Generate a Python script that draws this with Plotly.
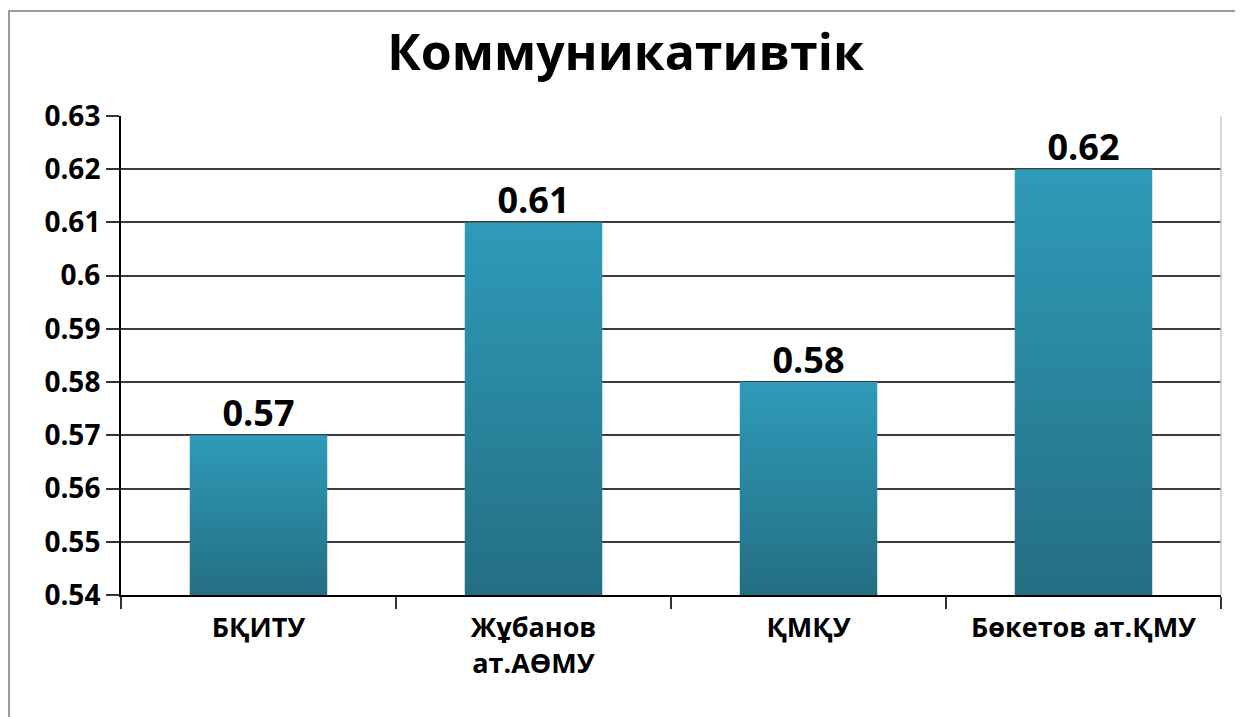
import plotly.graph_objects as go

categories = ["БҚИТУ", "Жұбанов<br>ат.АӨМУ", "ҚМҚУ", "Бөкетов ат.ҚМУ"]
values = [0.57, 0.61, 0.58, 0.62]
value_labels = ["0.57", "0.61", "0.58", "0.62"]
title_text = "Коммуникативтік"
y_min, y_max, y_step = 0.54, 0.63, 0.01

BAR_HALF = 0.25
LIGHT = "rgb(46,155,185)"
DARK = "rgb(36,110,130)"
FONT = "Open Sans"

fig = go.Figure()

for i, v in enumerate(values):
    fig.add_trace(go.Scatter(
        x=[i - BAR_HALF, i + BAR_HALF, i + BAR_HALF, i - BAR_HALF, i - BAR_HALF],
        y=[y_min, y_min, v, v, y_min],
        mode="lines",
        line=dict(width=0, color=LIGHT),
        fill="toself",
        fillgradient=dict(type="vertical", colorscale=[[0, DARK], [1, LIGHT]]),
        hoverinfo="skip",
        showlegend=False,
    ))

fig.add_trace(go.Scatter(
    x=list(range(len(values))),
    y=values,
    mode="text",
    text=value_labels,
    textposition="top center",
    textfont=dict(family=FONT, size=36, color="black", weight="bold"),
    showlegend=False,
    hoverinfo="skip",
))

fig.update_layout(
    width=1235, height=709,
    margin=dict(l=113, r=22, t=108, b=122),
    paper_bgcolor="white",
    plot_bgcolor="white",
    title=dict(
        text="<b>" + title_text + "</b>",
        x=0.5, xanchor="center", y=0.937, yanchor="middle",
        font=dict(family=FONT, size=50, color="black"),
    ),
    font=dict(family=FONT, color="black"),
    shapes=[
        dict(type="rect", xref="paper", yref="paper",
             x0=-0.1018, x1=1.06, y0=-0.35, y1=1.219,
             line=dict(color="#9a9a9a", width=2), layer="below"),
        dict(type="line", xref="paper", yref="paper",
             x0=1, x1=1, y0=0, y1=1,
             line=dict(color="#c8c8c8", width=1.5)),
    ],
)

fig.update_xaxes(
    range=[-0.5, len(values) - 0.5],
    tickvals=list(range(len(categories))),
    ticktext=categories,
    ticks="",
    ticklabelstandoff=8,
    showgrid=False,
    zeroline=False,
    showline=True, linecolor="black", linewidth=2,
    tickfont=dict(family=FONT, size=27, color="black", weight="bold"),
    minor=dict(
        tickvals=[k - 0.5 for k in range(len(categories) + 1)],
        ticks="outside", ticklen=12, tickwidth=2, tickcolor="#333",
        showgrid=False,
    ),
)

fig.update_yaxes(
    range=[y_min, y_max],
    dtick=y_step,
    tick0=y_min,
    showgrid=True, gridcolor="#3c3c3c", gridwidth=1.5,
    zeroline=False,
    showline=True, linecolor="black", linewidth=2,
    ticks="outside", ticklen=13, tickwidth=2, tickcolor="#333",
    tickfont=dict(family=FONT, size=28, color="black", weight="bold"),
)

fig.write_html("out.html")
